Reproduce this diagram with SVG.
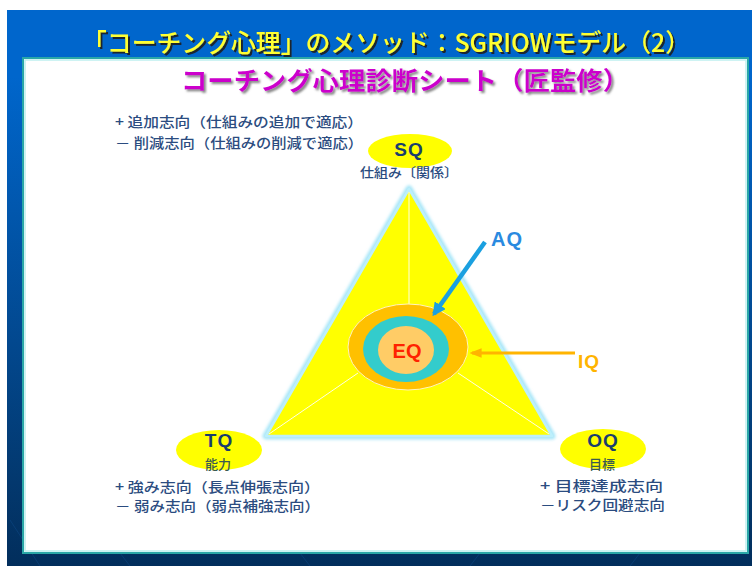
<svg xmlns="http://www.w3.org/2000/svg" width="752" height="566" viewBox="0 0 752 566">
<defs>
<linearGradient id="bg" x1="0" y1="0" x2="0" y2="1">
<stop offset="0" stop-color="#0066CC"/>
<stop offset="0.12" stop-color="#0066CC"/>
<stop offset="0.85" stop-color="#03386E"/>
<stop offset="1" stop-color="#022E5C"/>
</linearGradient>
<filter id="glow" x="-20%" y="-20%" width="140%" height="140%">
<feGaussianBlur stdDeviation="1.5"/>
</filter>
<filter id="shadowDark" x="-5%" y="-20%" width="110%" height="150%">
<feDropShadow dx="2" dy="2" stdDeviation="0.6" flood-color="#1A1A1A" flood-opacity="0.9"/>
</filter>
<filter id="shadowGrey" x="-5%" y="-20%" width="110%" height="150%">
<feDropShadow dx="2" dy="2" stdDeviation="0.8" flood-color="#666666" flood-opacity="0.8"/>
</filter>
<marker id="arrAQ" viewBox="0 0 10 10" refX="8" refY="5" markerWidth="3" markerHeight="3" orient="auto">
<path d="M0,0 L10,5 L0,10 z" fill="#1AA0E0"/>
</marker>
<marker id="arrIQ" viewBox="0 0 10 10" refX="8" refY="5" markerWidth="4" markerHeight="4" orient="auto">
<path d="M0,1 L10,5 L0,9 z" fill="#FFB400"/>
</marker>
</defs>
<style>
.jp{font-family:"Noto Sans CJK JP","Noto Sans",sans-serif;}
.lat{font-family:"Liberation Sans","DejaVu Sans",sans-serif;font-weight:bold;}
.desc{font-size:13.5px;fill:#2B4C80;font-weight:500;}
.qlbl{font-size:19px;fill:#1A3E6E;letter-spacing:1px;}
.sub{font-size:13px;font-weight:500;}
.qell{fill:#FFFF00;}
</style>
<rect x="0" y="0" width="752" height="566" fill="#FFFFFF"/>
<rect x="7" y="10" width="745" height="556" fill="url(#bg)"/>
<g stroke="#0E4A88" stroke-width="1" opacity="0.5">
<line x1="10" y1="520" x2="40" y2="566"/>
<line x1="120" y1="553" x2="130" y2="566"/>
<line x1="300" y1="553" x2="310" y2="566"/>
<line x1="480" y1="553" x2="470" y2="566"/>
<line x1="640" y1="553" x2="630" y2="566"/>
</g>
<rect x="23" y="58" width="725" height="495" fill="#FFFFFF" stroke="#2AA7A7" stroke-width="2"/>
<rect x="25" y="60" width="721" height="491" fill="none" stroke="#BFEFEF" stroke-width="1.5"/>
<g id="title">
<text class="jp" x="386" y="52" text-anchor="middle" font-size="25" font-weight="500" textLength="608" lengthAdjust="spacingAndGlyphs" fill="#FFFF33" filter="url(#shadowDark)">「コーチング心理」のメソッド：SGRIOWモデル（2）</text>
</g>
<g id="subtitle">
<text class="jp" x="405" y="90" text-anchor="middle" font-size="25" font-weight="bold" textLength="448" lengthAdjust="spacingAndGlyphs" fill="#CC00CC" filter="url(#shadowGrey)">コーチング心理診断シート（匠監修）</text>
</g>
<g id="triangle">
<polygon points="409,189 266,436 552,436" fill="none" stroke="#A8E6F8" stroke-width="7" stroke-linejoin="round" filter="url(#glow)"/>
<polygon points="409,189 266,436 552,436" fill="#FFFF00" stroke="#BDEFFB" stroke-width="2.5" stroke-linejoin="round"/>
<g stroke="#FFFFFF" stroke-width="1" opacity="0.9">
<line x1="409" y1="192" x2="409" y2="304"/>
<line x1="269" y1="434" x2="358" y2="373"/>
<line x1="549" y1="434" x2="458" y2="373"/>
</g>
</g>
<g id="EQ">
<ellipse cx="408" cy="347" rx="60" ry="43" fill="#FFC000" stroke="#FFF3C0" stroke-width="1"/>
<ellipse cx="406" cy="349" rx="43" ry="33" fill="#33CCCC"/>
<ellipse cx="406" cy="350" rx="28" ry="24" fill="#FFCC66"/>
<text class="lat" x="407" y="358" text-anchor="middle" font-size="20" fill="#FF2200">EQ</text>
</g>
<g id="connectors">
<line x1="485" y1="242" x2="434" y2="314" stroke="#1AA0E0" stroke-width="4.5" marker-end="url(#arrAQ)"/>
<line x1="575" y1="353" x2="472" y2="353" stroke="#FFB400" stroke-width="3" marker-end="url(#arrIQ)"/>
</g>
<g id="AQ">
<text class="lat" x="491" y="246" font-size="20" fill="#2A8AE0" letter-spacing="1">AQ</text>
</g>
<g id="IQ">
<text class="lat" x="578" y="368" font-size="19" fill="#FFB400" letter-spacing="1">IQ</text>
</g>
<g id="SQ">
<ellipse class="qell" cx="410" cy="151" rx="42" ry="17"/>
<text class="lat qlbl" x="409" y="156" text-anchor="middle">SQ</text>
<text class="jp sub" x="409" y="177" text-anchor="middle" textLength="98" lengthAdjust="spacingAndGlyphs" fill="#2B4C80">仕組み〔関係〕</text>
<text class="jp desc" x="115" y="127" textLength="248" lengthAdjust="spacingAndGlyphs">+ 追加志向（仕組みの追加で適応）</text>
<text class="jp desc" x="115" y="148" textLength="248" lengthAdjust="spacingAndGlyphs">－ 削減志向（仕組みの削減で適応）</text>
</g>
<g id="TQ">
<ellipse class="qell" cx="219" cy="450" rx="43" ry="20"/>
<text class="lat qlbl" x="219" y="447" text-anchor="middle">TQ</text>
<text class="jp sub" x="218" y="469" text-anchor="middle" fill="#3A5A50">能力</text>
<text class="jp desc" x="115" y="492" textLength="205" lengthAdjust="spacingAndGlyphs">+ 強み志向（長点伸張志向）</text>
<text class="jp desc" x="115" y="511" textLength="205" lengthAdjust="spacingAndGlyphs">－ 弱み志向（弱点補強志向）</text>
</g>
<g id="OQ">
<ellipse class="qell" cx="603" cy="449" rx="43" ry="20"/>
<text class="lat qlbl" x="603" y="447" text-anchor="middle">OQ</text>
<text class="jp sub" x="602" y="469" text-anchor="middle" fill="#3A5A50">目標</text>
<text class="jp desc" x="540" y="491" textLength="123" lengthAdjust="spacingAndGlyphs">+ 目標達成志向</text>
<text class="jp desc" x="540" y="510" textLength="125" lengthAdjust="spacingAndGlyphs">－リスク回避志向</text>
</g>
</svg>
